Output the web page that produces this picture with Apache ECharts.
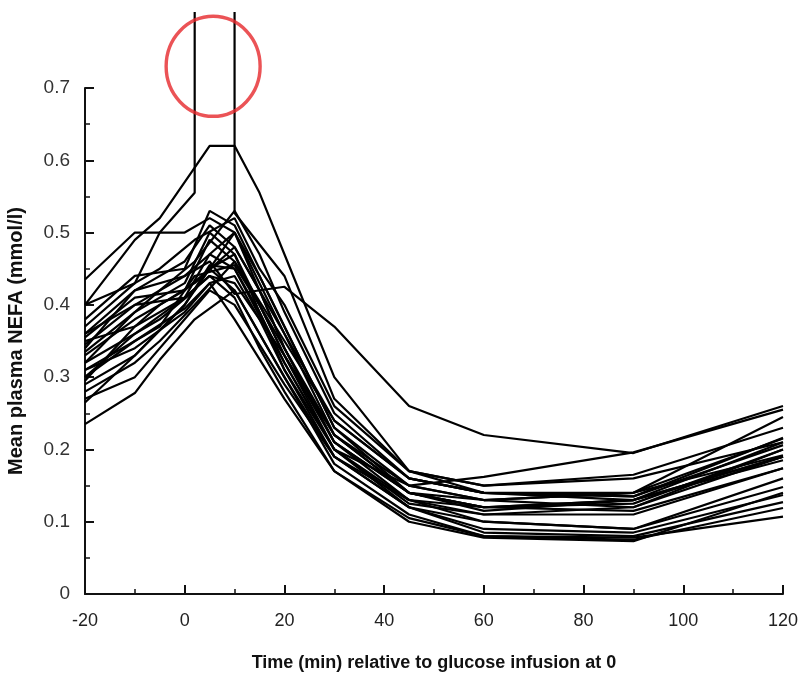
<!DOCTYPE html>
<html>
<head>
<meta charset="utf-8">
<script src="https://cdn.jsdelivr.net/npm/echarts@6/dist/echarts.min.js"></script>
<style>html,body{margin:0;padding:0;background:#fff;}#c{width:802px;height:677px;}</style>
</head>
<body>
<div id="c"></div>
<script>
// Time points (min) used by different subjects
const timesA = [-20, -10, 0, 5, 10, 20, 30, 45, 60, 90, 120];
const timesB = [-20, -10, -5, 2, 10, 15, 20, 30, 45, 60, 90, 120];
const timesC = [-20, -10, -5, 2, 5, 10, 15, 20, 30, 45, 60, 90, 120];
const timesD = [-20, -10, 0, 5, 10, 15, 20, 30, 45, 60, 90, 120];

// NEFA values (mmol/l), one row per subject
const seriesA = [
  [0.435, 0.50, 0.50, 0.52, 0.50, 0.34, 0.21, 0.14, 0.12, 0.13, 0.19],
  [0.36, 0.42, 0.44, 0.46, 0.415, 0.425, 0.37, 0.26, 0.22, 0.195, 0.26],
  [0.33, 0.38, 0.42, 0.45, 0.47, 0.31, 0.20, 0.15, 0.162, 0.196, 0.255],
  [0.30, 0.36, 0.41, 0.44, 0.43, 0.33, 0.22, 0.14, 0.13, 0.14, 0.215],
  [0.27, 0.30, 0.38, 0.42, 0.40, 0.29, 0.19, 0.12, 0.10, 0.09, 0.148],
  [0.345, 0.40, 0.41, 0.47, 0.45, 0.32, 0.20, 0.13, 0.11, 0.12, 0.19],
  [0.31, 0.34, 0.39, 0.43, 0.38, 0.27, 0.17, 0.105, 0.08, 0.078, 0.107],
  [0.355, 0.41, 0.42, 0.49, 0.46, 0.35, 0.24, 0.16, 0.14, 0.135, 0.206],
  [0.29, 0.33, 0.40, 0.45, 0.42, 0.30, 0.19, 0.13, 0.12, 0.115, 0.174]
];
const seriesB = [
  [0.40, 0.43, 0.45, 0.49, 0.52, 0.45, 0.40, 0.26, 0.17, 0.15, 0.16, 0.21],
  [0.32, 0.36, 0.38, 0.42, 0.50, 0.44, 0.37, 0.23, 0.14, 0.12, 0.125, 0.20],
  [0.28, 0.32, 0.35, 0.40, 0.46, 0.40, 0.33, 0.20, 0.12, 0.09, 0.085, 0.137],
  [0.35, 0.37, 0.40, 0.43, 0.48, 0.42, 0.36, 0.22, 0.15, 0.13, 0.14, 0.192],
  [0.235, 0.278, 0.324, 0.38, 0.42, 0.36, 0.30, 0.18, 0.11, 0.08, 0.075, 0.119],
  [0.31, 0.35, 0.37, 0.44, 0.455, 0.40, 0.34, 0.21, 0.14, 0.115, 0.13, 0.185],
  [0.335, 0.39, 0.42, 0.46, 0.53, 0.47, 0.39, 0.25, 0.16, 0.14, 0.135, 0.216]
];
const seriesC = [
  [0.40, 0.49, 0.52, 0.59, 0.62, 0.62, 0.555, 0.47, 0.30, 0.17, 0.14, 0.13, 0.19]
];
const seriesD = [
  [0.38, 0.44, 0.45, 0.53, 0.51, 0.44, 0.37, 0.23, 0.15, 0.13, 0.12, 0.20],
  [0.32, 0.39, 0.43, 0.50, 0.47, 0.40, 0.33, 0.21, 0.13, 0.10, 0.09, 0.16],
  [0.265, 0.33, 0.40, 0.455, 0.45, 0.39, 0.32, 0.20, 0.125, 0.11, 0.11, 0.174],
  [0.30, 0.35, 0.395, 0.43, 0.44, 0.38, 0.31, 0.19, 0.12, 0.085, 0.08, 0.127],
  [0.34, 0.42, 0.46, 0.51, 0.48, 0.42, 0.34, 0.22, 0.14, 0.12, 0.13, 0.21],
  [0.295, 0.37, 0.41, 0.44, 0.41, 0.34, 0.28, 0.17, 0.10, 0.078, 0.073, 0.14],
  [0.36, 0.40, 0.44, 0.47, 0.50, 0.43, 0.36, 0.24, 0.16, 0.14, 0.14, 0.245]
];
// Subject whose trace runs off the top of the plot between 2 and 10 min
const spikeTimesIn = [-20, -10, -5, 2, 2];
const spikeValuesIn = [0.37, 0.43, 0.50, 0.555, 0.805];
const spikeTimesOut = [10, 10, 20, 30, 45, 60, 90, 120];
const spikeValuesOut = [0.805, 0.527, 0.44, 0.27, 0.17, 0.15, 0.165, 0.23];

// Highlight circle annotation (time, value)
const highlight = [[5.7, 0.730]];

const xTicks = [-20, 0, 20, 40, 60, 80, 100, 120];
const yTicks = [0, 0.1, 0.2, 0.3, 0.4, 0.5, 0.6, 0.7];

function mk(times, vals, clip) {
  return {
    type: 'line',
    data: times.map((t, i) => [t, vals[i]]),
    symbol: 'none',
    clip: clip,
    lineStyle: { color: '#000', width: 2.2 },
    z: 3
  };
}

const series = [];
seriesA.forEach(v => series.push(mk(timesA, v, true)));
seriesB.forEach(v => series.push(mk(timesB, v, true)));
seriesC.forEach(v => series.push(mk(timesC, v, true)));
seriesD.forEach(v => series.push(mk(timesD, v, true)));
series.push(mk(spikeTimesIn, spikeValuesIn, false));
series.push(mk(spikeTimesOut, spikeValuesOut, false));
series.push({
  type: 'scatter',
  data: highlight,
  symbol: 'circle',
  symbolSize: [94, 100],
  clip: false,
  itemStyle: { color: 'rgba(0,0,0,0)', borderColor: '#e6282c', borderWidth: 3.5 },
  z: 10
});

const chart = echarts.init(document.getElementById('c'), null, { renderer: 'canvas' });
chart.setOption({
  animation: false,
  backgroundColor: '#fff',
  grid: { left: 85, right: 19, top: 88, bottom: 83, containLabel: false, outerBoundsMode: 'none' },
  xAxis: {
    type: 'value',
    min: xTicks[0], max: xTicks[xTicks.length - 1], interval: 20,
    name: 'Time (min) relative to glucose infusion at 0',
    nameLocation: 'middle',
    nameGap: 60,
    nameTextStyle: { fontFamily: 'Liberation Sans', fontWeight: 'bold', fontSize: 18, color: '#111' },
    axisLine: { onZero: false, lineStyle: { color: '#111', width: 2 } },
    axisTick: { inside: true, length: 9, lineStyle: { color: '#111', width: 2 } },
    minorTick: { show: true, splitNumber: 2, length: 5, lineStyle: { color: '#111', width: 1.5 } },
    axisLabel: { margin: 18, fontFamily: 'Liberation Sans', fontSize: 18, color: '#222' },
    splitLine: { show: false }
  },
  yAxis: {
    type: 'value',
    min: yTicks[0], max: yTicks[yTicks.length - 1], interval: 0.1,
    name: 'Mean plasma NEFA (mmol/l)',
    nameLocation: 'middle',
    nameGap: 59,
    nameRotate: 90,
    nameTextStyle: { fontFamily: 'Liberation Sans', fontWeight: 'bold', fontSize: 20, color: '#111' },
    axisLine: { onZero: false, lineStyle: { color: '#111', width: 2 } },
    axisTick: { inside: true, length: 9, lineStyle: { color: '#111', width: 2 } },
    minorTick: { show: true, splitNumber: 2, length: 5, lineStyle: { color: '#111', width: 1.5 } },
    axisLabel: { margin: 15, fontFamily: 'Liberation Sans', fontSize: 19, color: '#333',
      formatter: v => (v === 0 ? '0' : v.toFixed(1)) },
    splitLine: { show: false }
  },
  series: series
});
</script>
</body>
</html>
